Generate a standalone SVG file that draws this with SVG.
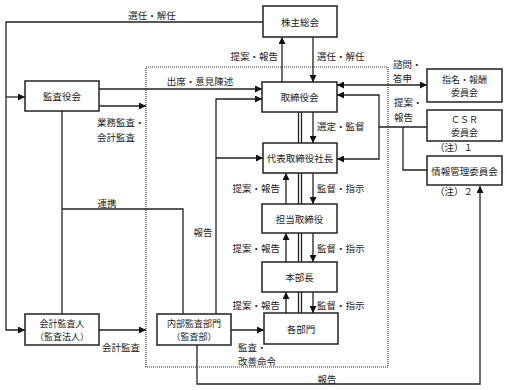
<svg xmlns="http://www.w3.org/2000/svg" width="507" height="390" viewBox="0 0 507 390">
<style>
.box{fill:#fff;stroke:#222;stroke-width:1.5}
.ln{fill:none;stroke:#222;stroke-width:1.3}
.dot{fill:none;stroke:#333;stroke-width:1.2;stroke-dasharray:1 1}
text{font-family:"Noto Sans CJK JP","Noto Sans",sans-serif;font-size:9.5px;fill:#222}
.c{text-anchor:middle;dominant-baseline:central}
.l{dominant-baseline:central}
.r{text-anchor:end;dominant-baseline:central}
.s{font-size:9px}
</style>
<defs>
<marker id="ah" viewBox="0 0 10 10" refX="10" refY="5" markerWidth="7" markerHeight="7" markerUnits="userSpaceOnUse" orient="auto-start-reverse">
<path d="M0,0 L10,5 L0,10 z" fill="#111"/>
</marker>
</defs>
<rect width="507" height="390" fill="#fff"/>
<rect class="dot" x="146" y="67" width="242" height="300"/>
<g id="connectors">
<path class="ln" d="M263,22 H6 V330 H25" marker-end="url(#ah)"/>
<path class="ln" d="M6,97 H25" marker-end="url(#ah)"/>
<path class="ln" d="M282,82 V37" marker-end="url(#ah)"/>
<path class="ln" d="M313,37 V82" marker-end="url(#ah)"/>
<path class="ln" d="M99,89 H262" marker-end="url(#ah)"/>
<path class="ln" d="M99,106 H146" marker-end="url(#ah)"/>
<path class="ln" d="M62,111 V314"/>
<path class="ln" d="M62,209 H183 V314"/>
<path class="ln" d="M99,330 H146" marker-end="url(#ah)"/>
<path class="ln" d="M216,314 V99 H262" marker-end="url(#ah)"/>
<path class="ln" d="M216,158 H263" marker-end="url(#ah)"/>
<path class="ln" d="M231,330 H264" marker-end="url(#ah)"/>
<path class="ln" d="M197,345 V384 H480 V186" marker-end="url(#ah)"/>
<path class="ln" d="M337,85 H427" marker-start="url(#ah)" marker-end="url(#ah)"/>
<path class="ln" d="M427,127 H379 V95 H337" marker-end="url(#ah)"/>
<path class="ln" d="M379,127 V159 H337" marker-end="url(#ah)"/>
<path class="ln" d="M427,170 H403 V127"/>
<path class="ln" d="M298.5,112 V143 M301.5,112 V143 M298.5,173 V204 M301.5,173 V204 M298.5,233 V262 M301.5,233 V262 M298.5,292 V313 M301.5,292 V313"/>
<path class="ln" d="M313,112 V143" marker-end="url(#ah)"/>
<path class="ln" d="M286,204 V173" marker-end="url(#ah)"/>
<path class="ln" d="M313,173 V204" marker-end="url(#ah)"/>
<path class="ln" d="M286,262 V233" marker-end="url(#ah)"/>
<path class="ln" d="M313,233 V262" marker-end="url(#ah)"/>
<path class="ln" d="M286,313 V292" marker-end="url(#ah)"/>
<path class="ln" d="M313,292 V313" marker-end="url(#ah)"/>
</g>
<g id="labels">
<text class="c" x="152" y="15">選任・解任</text>
<text class="r" x="278" y="56">提案・報告</text>
<text class="l" x="317" y="56">選任・解任</text>
<text class="c" x="200" y="81">出席・意見陳述</text>
<text class="l" x="97" y="122">業務監査・</text>
<text class="l" x="97" y="137">会計監査</text>
<text class="c" x="107" y="203">連携</text>
<text class="c" x="203" y="232">報告</text>
<text class="l" x="102" y="347">会計監査</text>
<text class="l" x="238" y="347">監査・</text>
<text class="l" x="238" y="361">改善命令</text>
<text class="c" x="327" y="379">報告</text>
<text class="l" x="393" y="64">諮問・</text>
<text class="l" x="393" y="78">答申</text>
<text class="l" x="394" y="102">提案・</text>
<text class="l" x="394" y="117">報告</text>
<text class="l" x="435" y="147">（注）１</text>
<text class="l" x="435" y="191">（注）２</text>
<text class="l" x="317" y="126">選定・監督</text>
<text class="r" x="280" y="188">提案・報告</text>
<text class="l" x="317" y="188">監督・指示</text>
<text class="r" x="280" y="248">提案・報告</text>
<text class="l" x="317" y="248">監督・指示</text>
<text class="r" x="280" y="305">提案・報告</text>
<text class="l" x="317" y="305">監督・指示</text>
</g>
<g id="n-kabunushi"><rect class="box" x="263" y="6" width="74" height="31"/><text class="c" x="300" y="22">株主総会</text></g>
<g id="n-kansayakukai"><rect class="box" x="25" y="81" width="74" height="30"/><text class="c" x="62" y="96">監査役会</text></g>
<g id="n-torishimariyakukai"><rect class="box" x="262" y="82" width="75" height="30"/><text class="c" x="299.5" y="97">取締役会</text></g>
<g id="n-shimei"><rect class="box" x="427" y="69" width="75" height="33"/><text class="c s" x="464.5" y="79">指名・報酬</text><text class="c s" x="464.5" y="92">委員会</text></g>
<g id="n-csr"><rect class="box" x="427" y="110" width="75" height="31"/><text class="c s" x="464.5" y="119">ＣＳＲ</text><text class="c s" x="464.5" y="132">委員会</text></g>
<g id="n-joho"><rect class="box" x="427" y="156" width="75" height="29"/><text class="c" x="464.5" y="170.5">情報管理委員会</text></g>
<g id="n-shacho"><rect class="box" x="263" y="143" width="74" height="30"/><text class="c" x="300" y="158">代表取締役社長</text></g>
<g id="n-tanto"><rect class="box" x="262" y="204" width="75" height="29"/><text class="c" x="299.5" y="218.5">担当取締役</text></g>
<g id="n-honbucho"><rect class="box" x="262" y="262" width="75" height="30"/><text class="c" x="299.5" y="277">本部長</text></g>
<g id="n-kakubumon"><rect class="box" x="264" y="313" width="74" height="31"/><text class="c" x="301" y="328.5">各部門</text></g>
<g id="n-kaikei"><rect class="box" x="25" y="314" width="74" height="31"/><text class="c s" x="62" y="323">会計監査人</text><text class="c s" x="62" y="336">（監査法人）</text></g>
<g id="n-naibu"><rect class="box" x="157" y="314" width="74" height="31"/><text class="c s" x="194" y="323">内部監査部門</text><text class="c s" x="194" y="336">（監査部）</text></g>
</svg>
